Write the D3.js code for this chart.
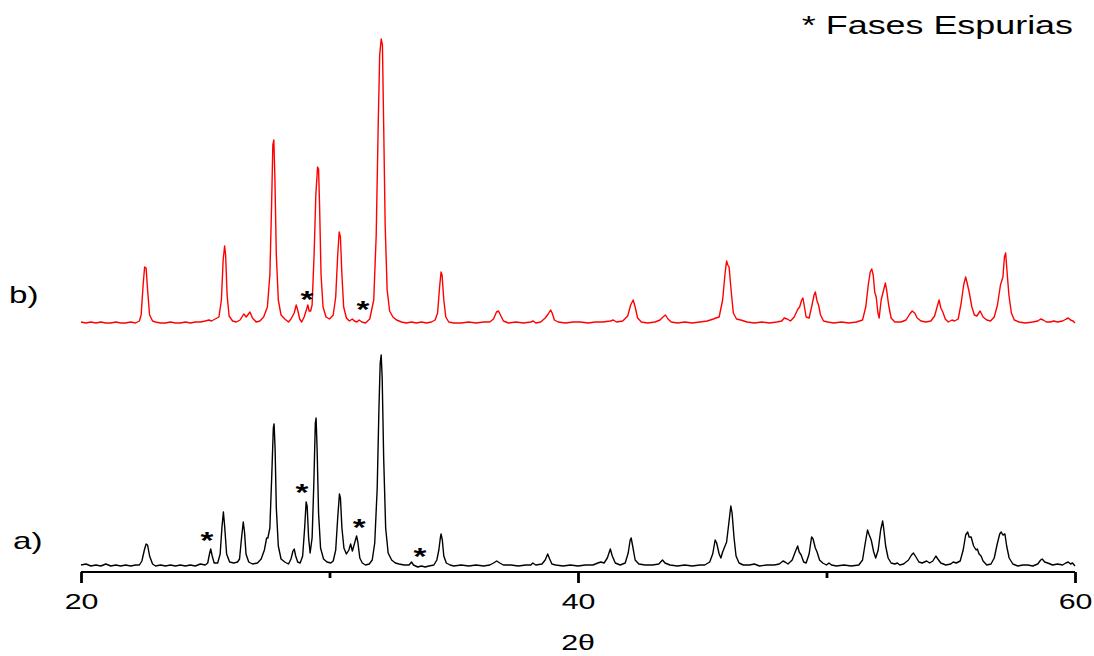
<!DOCTYPE html>
<html>
<head>
<meta charset="utf-8">
<script src="https://cdn.jsdelivr.net/npm/d3@7/dist/d3.min.js"></script>
<style>
  html, body { margin: 0; padding: 0; background: #fff; }
  svg { display: block; }
  text { font-family: "Liberation Sans", Arial, sans-serif; }
</style>
</head>
<body>
<svg id="chart" width="1094" height="656"></svg>
<script>
// ---- Data (2θ, intensity in arbitrary units) ----
const patternA = [
  [20.0,3],[20.2,4],[20.4,2],[20.6,3],[20.8,2],[21.0,4],[21.2,2],[21.4,3],[21.6,2],[21.8,3],[22.0,2],[22.2,3],[22.35,3],
  [22.45,7],[22.55,18],[22.62,24],[22.68,23],[22.76,12],[22.88,4],
  [23.0,2],[23.2,3],[23.4,2],[23.6,3],[23.8,2],[24.0,3],[24.2,2],[24.4,3],[24.6,2],[24.8,4],[25.0,3],
  [25.1,5],[25.17,14],[25.22,19],[25.28,12],[25.36,5],
  [25.5,5],[25.6,14],[25.67,40],[25.73,56],[25.78,42],[25.86,14],[25.98,6],
  [26.15,5],[26.3,6],
  [26.38,9],[26.46,30],[26.53,46],[26.58,36],[26.64,14],[26.75,6],
  [26.9,4],[27.1,5],[27.25,9],[27.38,18],[27.47,30],[27.52,30],
  [27.6,40],[27.68,95],[27.74,140],[27.77,144],[27.81,120],[27.86,60],[27.94,22],[28.05,9],[28.2,6],[28.35,4],
  [28.45,9],[28.53,17],[28.58,19],[28.64,12],[28.72,6],[28.82,5],
  [28.92,12],[29.0,40],[29.06,66],[29.1,62],[29.16,30],[29.22,15],
  [29.3,30],[29.37,85],[29.43,145],[29.46,150],[29.5,120],[29.56,55],[29.64,20],[29.76,9],[29.9,6],[30.05,5],[30.15,7],
  [30.25,18],[30.33,50],[30.4,74],[30.44,70],[30.5,40],[30.58,20],[30.68,14],
  [30.78,18],[30.85,24],[30.92,17],
  [31.0,24],[31.09,32],[31.14,26],[31.22,10],[31.32,5],[31.45,3],[31.6,4],[31.72,8],
  [31.82,25],[31.92,80],[31.99,160],[32.04,205],[32.08,213],[32.12,190],[32.18,110],[32.26,40],[32.36,15],[32.5,8],[32.65,5],[32.8,4],
  [33.0,3],[33.2,3],[33.3,6],[33.38,3],[33.55,1],[33.7,2],[33.85,1],[34.0,2],[34.2,3],[34.32,8],
  [34.4,18],[34.46,30],[34.49,34],[34.54,28],[34.6,12],[34.7,5],[34.85,3],
  [35.0,2],[35.3,3],[35.6,2],[35.9,3],[36.2,2],[36.45,3],[36.6,5],[36.73,7],[36.85,5],[37.0,3],[37.3,3],[37.6,2],[37.9,3],
  [38.1,3],[38.18,5],[38.3,3],[38.55,4],[38.68,8],[38.78,14],[38.86,9],[38.95,4],[39.1,3],[39.4,2],[39.7,3],[40.0,2],
  [40.3,3],[40.6,3],[40.8,5],[40.92,6],[41.05,5],[41.18,10],[41.3,19],[41.38,12],[41.5,5],[41.7,3],
  [41.9,5],[42.02,15],[42.1,28],[42.14,30],[42.2,22],[42.3,8],[42.45,4],[42.7,3],[43.0,3],[43.25,4],[43.4,8],[43.5,5],[43.7,3],
  [44.0,2],[44.3,3],[44.6,2],[44.9,3],[45.1,3],[45.3,6],[45.42,14],[45.52,28],[45.58,25],[45.68,14],[45.75,10],[45.82,16],[45.9,21],
  [45.98,26],[46.07,45],[46.15,62],[46.2,55],[46.28,30],[46.36,12],[46.48,5],[46.65,3],[46.9,3],[47.1,4],[47.3,2],[47.6,3],[47.9,3],
  [48.1,4],[48.25,7],[48.33,6],[48.45,4],[48.62,8],[48.74,16],[48.84,22],[48.9,16],[48.98,13],[49.08,6],[49.18,5],
  [49.3,14],[49.4,31],[49.46,29],[49.55,20],[49.62,16],[49.72,8],[49.85,5],[50.0,3],[50.1,5],[50.2,3],[50.4,2],[50.7,3],[51.0,2],[51.3,3],
  [51.45,8],[51.56,25],[51.65,38],[51.72,33],[51.8,28],[51.9,16],[51.98,10],[52.08,18],[52.18,38],[52.26,47],[52.3,40],[52.38,22],
  [52.48,10],[52.6,5],[52.75,4],[52.85,5],[52.95,3],[53.1,4],[53.3,8],[53.42,13],[53.5,15],[53.6,11],[53.72,6],[53.85,5],
  [54.03,7],[54.15,5],[54.28,7],[54.4,12],[54.48,9],[54.6,5],[54.8,3],[55.0,4],[55.1,6],[55.22,5],[55.38,7],
  [55.5,18],[55.6,33],[55.68,36],[55.74,31],[55.82,31],[55.92,22],[56.02,18],[56.07,19],[56.14,14],[56.22,12],[56.3,7],[56.45,3],
  [56.62,4],[56.75,10],[56.87,24],[56.97,34],[57.03,36],[57.1,33],[57.18,34],[57.25,22],[57.35,10],[57.5,4],[57.7,2],[57.9,3],
  [58.1,3],[58.3,2],[58.5,4],[58.62,8],[58.68,9],[58.78,6],[58.9,5],[59.1,3],[59.3,4],[59.5,3],[59.63,5],[59.73,6],[59.82,4],[59.9,5],[60.0,2]
];

const patternB = [
  [20.0,3],[20.2,2],[20.4,3],[20.6,2],[20.8,3],[21.0,2],[21.2,2],[21.4,3],[21.6,2],[21.8,2],[22.0,3],[22.2,2],[22.35,4],
  [22.42,10],[22.5,40],[22.56,58],[22.62,57],[22.68,35],[22.76,10],[22.88,4],
  [23.0,3],[23.2,2],[23.4,2],[23.6,3],[23.8,2],[24.0,2],[24.2,3],[24.4,2],[24.6,3],[24.8,3],[25.0,4],[25.15,5],[25.25,4],[25.4,6],
  [25.55,8],[25.65,25],[25.72,65],[25.78,79],[25.82,70],[25.88,30],[25.96,9],[26.1,4],[26.25,3],[26.4,5],[26.55,11],[26.65,8],[26.8,13],[26.9,7],[27.05,3],[27.2,4],[27.35,8],
  [27.5,18],[27.6,50],[27.67,120],[27.72,180],[27.76,185],[27.8,150],[27.86,70],[27.94,25],[28.05,10],[28.2,6],[28.35,3],[28.45,6],
  [28.58,12],[28.66,20],[28.72,15],[28.8,6],[28.88,3],[28.98,8],
  [29.08,16],[29.13,20],[29.18,14],[29.24,14],[29.3,20],
  [29.38,70],[29.45,130],[29.52,158],[29.56,156],[29.6,120],[29.66,50],[29.74,18],[29.86,8],[30.0,6],[30.15,10],
  [30.25,28],[30.33,70],[30.39,93],[30.44,88],[30.5,50],[30.57,18],[30.68,7],[30.8,4],[30.92,6],[31.0,4],[31.1,3],[31.19,5],[31.3,3],[31.45,2],[31.62,6],
  [31.78,25],[31.88,90],[31.96,200],[32.02,270],[32.08,286],[32.13,280],[32.18,200],[32.24,100],[32.32,35],[32.42,14],[32.55,8],[32.7,5],
  [32.9,3],[33.1,2],[33.3,3],[33.5,2],[33.7,3],[33.9,2],[34.1,3],[34.25,5],
  [34.35,12],[34.43,38],[34.49,53],[34.53,50],[34.6,25],[34.68,8],[34.8,3],
  [35.0,2],[35.3,2],[35.6,3],[35.9,2],[36.2,3],[36.45,3],[36.6,6],[36.72,13],[36.8,14],[36.88,10],[37.0,4],[37.2,2],[37.5,3],[37.8,2],
  [38.1,3],[38.2,4],[38.3,2],[38.5,3],[38.68,7],[38.8,11],[38.9,15],[38.96,12],[39.05,5],[39.2,3],[39.5,2],[39.8,3],[40.1,3],[40.4,2],
  [40.7,3],[41.0,3],[41.3,4],[41.42,5],[41.55,3],[41.8,4],[42.0,9],[42.12,20],[42.22,25],[42.3,18],[42.4,7],[42.55,3],[42.8,2],
  [43.1,3],[43.3,5],[43.42,8],[43.52,10],[43.62,6],[43.75,3],[44.0,2],[44.3,3],[44.6,2],[44.9,3],[45.2,4],[45.45,6],[45.55,7],[45.68,8],
  [45.82,25],[45.92,52],[45.98,64],[46.03,60],[46.08,58],[46.16,35],[46.25,12],[46.38,6],[46.55,5],[46.8,3],[47.1,2],[47.4,3],[47.7,2],
  [48.0,3],[48.2,4],[48.3,7],[48.42,6],[48.55,4],[48.7,8],[48.85,16],[48.92,18],[49.0,25],[49.05,27],[49.1,20],[49.18,8],
  [49.3,7],[49.4,18],[49.5,30],[49.55,33],[49.62,24],[49.68,20],[49.76,10],[49.88,4],[50.05,3],[50.3,2],[50.6,3],[50.9,2],[51.2,3],[51.45,5],
  [51.58,18],[51.68,40],[51.76,53],[51.82,56],[51.88,50],[51.94,33],[52.0,28],[52.07,12],[52.12,7],[52.2,25],[52.3,35],[52.37,42],
  [52.42,35],[52.5,20],[52.6,7],[52.75,3],[53.0,3],[53.2,5],[53.35,11],[53.45,14],[53.55,12],[53.65,7],[53.8,4],[54.0,3],
  [54.2,4],[54.35,9],[54.45,18],[54.53,25],[54.6,17],[54.68,13],[54.78,6],[54.9,3],[55.05,5],[55.15,4],[55.3,6],
  [55.42,22],[55.52,40],[55.6,48],[55.66,42],[55.74,33],[55.85,18],[55.95,10],[56.05,9],[56.18,14],[56.3,8],[56.45,5],[56.6,4],
  [56.75,8],[56.88,20],[57.0,40],[57.1,48],[57.16,68],[57.21,72],[57.26,55],[57.34,30],[57.44,12],[57.56,5],[57.75,3],
  [58.0,2],[58.3,3],[58.5,4],[58.62,6],[58.72,5],[58.85,3],[59.0,3],[59.15,4],[59.3,3],[59.5,4],[59.65,6],[59.73,7],[59.82,5],[59.92,4],[60.0,2]
];

// Spurious-phase markers: [2θ, intensity level of marker]
const starsA = [[25.07,33],[28.89,81],[31.19,46],[33.64,17]];
const starsB = [[29.09,31],[31.35,21]];

const majorTicks = [20, 40, 60];
const minorTicks = [30, 50];
const seriesLabels = ["a)", "b)"];
const legendText = "* Fases Espurias";
const xTitle = "2θ";
const offsetB = 243; // vertical stacking offset for pattern b

// ---- Layout ----
const SX = 1.38; // horizontal stretch of the original text rendering
const svg = d3.select("#chart");
const x = d3.scaleLinear().domain([20, 60]).range([81, 1075]);
const y = d3.scaleLinear().domain([0, 540]).range([568, 28]);

function stretchedText(parent, tx, ty, str, size, anchor, weight) {
  return parent.append("text")
    .attr("transform", `translate(${tx},${ty}) scale(${SX},1)`)
    .attr("text-anchor", anchor || "start")
    .style("font-size", size + "px")
    .style("font-weight", weight || "normal")
    .attr("fill", "#000")
    .text(str);
}

const line = (off) => d3.line()
  .x(d => x(d[0]))
  .y(d => y(d[1] + off))
  .curve(d3.curveLinear);

svg.append("path").datum(patternA)
  .attr("d", line(0)).attr("fill", "none")
  .attr("stroke", "#000").attr("stroke-width", 1.4).attr("stroke-linejoin", "round");

svg.append("path").datum(patternB)
  .attr("d", line(offsetB)).attr("fill", "none")
  .attr("stroke", "#ff0000").attr("stroke-width", 1.4).attr("stroke-linejoin", "round");

// Axis
const axisY = 572;
const gMajor = svg.append("g").attr("transform", `translate(0,${axisY})`)
  .call(d3.axisBottom(x).tickValues(majorTicks).tickSize(11).tickFormat(""));
gMajor.select(".domain").attr("stroke", "#000").attr("stroke-width", 2.2).attr("d", `M${x(20)},0H${x(60)}`);
gMajor.selectAll(".tick line").attr("stroke", "#000").attr("stroke-width", 2.8);
gMajor.selectAll(".tick").each(function(d) {
  stretchedText(d3.select(this), 0, 37, d3.format("d")(d), 22, "middle");
});

const gMinor = svg.append("g").attr("transform", `translate(0,${axisY})`)
  .call(d3.axisBottom(x).tickValues(minorTicks).tickSize(6).tickFormat(""));
gMinor.select(".domain").remove();
gMinor.selectAll(".tick line").attr("stroke", "#000").attr("stroke-width", 2.8);

stretchedText(svg, x(40), 650, xTitle, 22, "middle");

// Stars
starsA.forEach(d => stretchedText(svg, x(d[0]), y(d[1]) + 14, "*", 24, "middle", "bold"));
starsB.forEach(d => stretchedText(svg, x(d[0]), y(d[1] + offsetB) + 14, "*", 24, "middle", "bold"));

// Series labels
stretchedText(svg, 13, 549, seriesLabels[0], 24);
stretchedText(svg, 9, 303, seriesLabels[1], 24);

// Legend
stretchedText(svg, 1073, 34, legendText, 26, "end");
</script>
</body>
</html>
